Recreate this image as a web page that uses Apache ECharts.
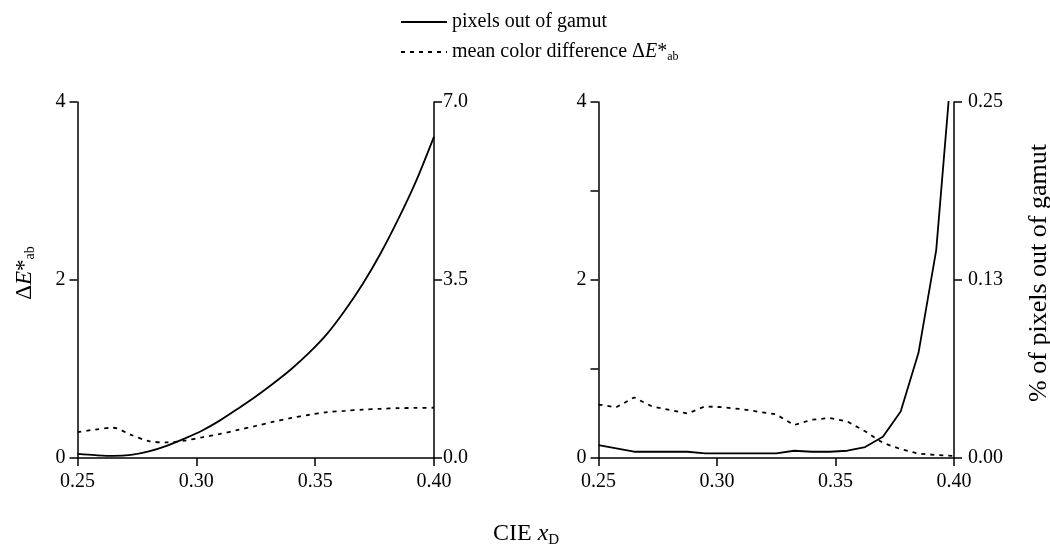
<!DOCTYPE html>
<html>
<head>
    <meta charset="UTF-8">
    <title>gamut</title>
    <script src="https://cdn.jsdelivr.net/npm/echarts@6.0.0/dist/echarts.min.js"></script>
    <style>
        body { margin: 0; background: #fff; }
        #chart { width: 1050px; height: 546px; }
    </style>
</head>
<body>
    <div id="chart"></div>
    <script>
        // CIE xD sample positions
        var xVals = [0.25, 0.2575, 0.265, 0.2725, 0.28, 0.2875, 0.295, 0.3025, 0.31, 0.3175, 0.325,
                     0.3325, 0.34, 0.3475, 0.355, 0.3625, 0.37, 0.3775, 0.385, 0.3925, 0.40];

        // left panel
        var leftGamut = [0.08, 0.055, 0.04, 0.06, 0.13, 0.24, 0.38, 0.54, 0.74, 0.97, 1.21,
                         1.47, 1.75, 2.07, 2.44, 2.90, 3.42, 4.02, 4.70, 5.45, 6.32];
        var leftDeltaE = [0.29, 0.32, 0.34, 0.26, 0.19, 0.175, 0.195, 0.233, 0.27, 0.315, 0.36,
                          0.408, 0.45, 0.486, 0.515, 0.53, 0.543, 0.553, 0.56, 0.563, 0.565];

        // right panel
        var rightGamut = [0.0091, 0.0068, 0.0044, 0.0044, 0.0044, 0.0044, 0.0033, 0.0033, 0.0033, 0.0033, 0.0033,
                          0.0051, 0.0044, 0.0044, 0.0051, 0.0077, 0.0149, 0.0327, 0.0737, 0.146, 0.296];
        var rightDeltaE = [0.60, 0.57, 0.68, 0.58, 0.54, 0.50, 0.58, 0.57, 0.55, 0.52, 0.49,
                           0.37, 0.43, 0.45, 0.41, 0.30, 0.17, 0.10, 0.05, 0.034, 0.024];

        // tick labels
        var xTicks = [0.25, 0.30, 0.35, 0.40];
        var xTickLabels = ['0.25', '0.30', '0.35', '0.40'];
        var deTicks = [0, 2, 4];
        var deTickLabels = ['0', '2', '4'];
        var leftPctTicks = [0, 3.5, 7];
        var leftPctTickLabels = ['0.0', '3.5', '7.0'];
        var rightPctTicks = [0, 0.125, 0.25];
        var rightPctTickLabels = ['0.00', '0.13', '0.25'];

        var nameGamut = 'pixels out of gamut';
        var nameDelta = 'mean color difference';

        function lookup(ticks, labels) {
            return function (v) {
                for (var i = 0; i < ticks.length; i++) {
                    if (Math.abs(ticks[i] - v) < 1e-6) return labels[i];
                }
                return '';
            };
        }
        function pairs(arr) {
            return xVals.map(function (x, i) { return [x, arr[i]]; });
        }

        var font = 'Liberation Serif';
        var black = '#000';
        var rich = {
            n: { fontFamily: font, fontSize: 20, color: black },
            i: { fontFamily: font, fontSize: 20, color: black, fontStyle: 'italic' },
            s: { fontFamily: font, fontSize: 12, color: black, padding: [10, 0, 0, 0] }
        };
        var axisLine = { show: true, lineStyle: { color: black, width: 1.5 } };
        var axisTick = { show: true, length: 8, lineStyle: { color: black, width: 1.5 } };
        var labelStyle = { color: black, fontFamily: font, fontSize: 20 };

        function xAxis(grid) {
            return {
                type: 'value', gridIndex: grid, min: 0.25, max: 0.40, interval: 0.05,
                axisLine: axisLine, axisTick: axisTick, splitLine: { show: false },
                axisLabel: Object.assign({ margin: 14, formatter: lookup(xTicks, xTickLabels) }, labelStyle)
            };
        }

        var myChart = echarts.init(document.getElementById('chart'));
        var option = {
            animation: false,
            backgroundColor: '#fff',
            title: {
                text: '{n|CIE }{i|x}{s|D}',
                left: 488, top: 514,
                textStyle: {
                    rich: {
                        n: { fontFamily: font, fontSize: 24, color: black, fontWeight: 'normal' },
                        i: { fontFamily: font, fontSize: 24, color: black, fontStyle: 'italic', fontWeight: 'normal' },
                        s: { fontFamily: font, fontSize: 15, color: black, fontWeight: 'normal', padding: [14, 0, 0, 0] }
                    }
                }
            },
            legend: {
                orient: 'vertical',
                left: 400, top: 12, padding: 0,
                itemWidth: 46, itemHeight: 14, itemGap: 10,
                itemStyle: { color: 'transparent', borderColor: 'transparent', borderWidth: 0 },
                data: [nameGamut, nameDelta],
                formatter: function (name) {
                    if (name === nameDelta) return '{n|' + name + ' Δ}{i|E}{n|*}{s|ab}';
                    return '{n|' + name + '}';
                },
                textStyle: { rich: rich }
            },
            grid: [
                { left: 77.5, right: 616, top: 102, bottom: 88, outerBoundsMode: 'none' },
                { left: 598.5, right: 96, top: 102, bottom: 88, outerBoundsMode: 'none' }
            ],
            xAxis: [xAxis(0), xAxis(1)],
            yAxis: [
                {
                    type: 'value', gridIndex: 0, position: 'left', min: 0, max: 4, interval: 2,
                    axisLine: axisLine, axisTick: axisTick, splitLine: { show: false },
                    axisLabel: Object.assign({ margin: 12, formatter: lookup(deTicks, deTickLabels) }, labelStyle),
                    name: '{n|Δ}{i|E}{n|*}{s|ab}',
                    nameLocation: 'middle', nameRotate: 90, nameGap: 40,
                    nameTextStyle: {
                        padding: [0, 0, 0, 14],
                        rich: {
                            n: { fontFamily: font, fontSize: 23, color: black },
                            i: { fontFamily: font, fontSize: 23, color: black, fontStyle: 'italic' },
                            s: { fontFamily: font, fontSize: 14, color: black, padding: [12, 0, 0, 0] }
                        }
                    }
                },
                {
                    type: 'value', gridIndex: 0, position: 'right', min: 0, max: 7, interval: 3.5,
                    axisLine: axisLine, axisTick: axisTick, splitLine: { show: false },
                    axisLabel: Object.assign({ margin: 9, formatter: lookup(leftPctTicks, leftPctTickLabels) }, labelStyle)
                },
                {
                    type: 'value', gridIndex: 1, position: 'left', min: 0, max: 4, interval: 1,
                    axisLine: axisLine, axisTick: axisTick, splitLine: { show: false },
                    axisLabel: Object.assign({ margin: 12, formatter: lookup(deTicks, deTickLabels) }, labelStyle)
                },
                {
                    type: 'value', gridIndex: 1, position: 'right', min: 0, max: 0.25, interval: 0.125,
                    axisLine: axisLine, axisTick: axisTick, splitLine: { show: false },
                    axisLabel: Object.assign({ margin: 14, formatter: lookup(rightPctTicks, rightPctTickLabels) }, labelStyle),
                    name: '% of pixels out of gamut',
                    nameLocation: 'middle', nameRotate: 90, nameGap: 72,
                    nameTextStyle: { fontFamily: font, fontSize: 26, color: black, padding: [0, 0, 0, 14] }
                }
            ],
            series: [
                {
                    name: nameGamut, type: 'line', xAxisIndex: 0, yAxisIndex: 1,
                    data: pairs(leftGamut), smooth: 0.3, symbol: 'none',
                    lineStyle: { color: black, width: 1.8 }, itemStyle: { color: black }
                },
                {
                    name: nameDelta, type: 'line', xAxisIndex: 0, yAxisIndex: 0,
                    data: pairs(leftDeltaE), smooth: 0.3, symbol: 'none',
                    lineStyle: { color: black, width: 1.8, type: [4, 5] }, itemStyle: { color: black }
                },
                {
                    name: nameGamut, type: 'line', xAxisIndex: 1, yAxisIndex: 3,
                    data: pairs(rightGamut), symbol: 'none',
                    lineStyle: { color: black, width: 1.8 }, itemStyle: { color: black }
                },
                {
                    name: nameDelta, type: 'line', xAxisIndex: 1, yAxisIndex: 2,
                    data: pairs(rightDeltaE), symbol: 'none',
                    lineStyle: { color: black, width: 1.8, type: [4, 5] }, itemStyle: { color: black }
                }
            ]
        };
        myChart.setOption(option);
    </script>
</body>
</html>
